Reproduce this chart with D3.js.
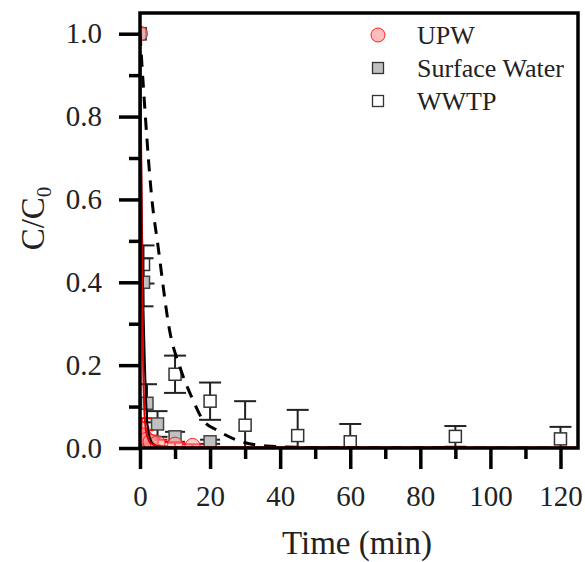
<!DOCTYPE html>
<html>
<head>
<meta charset="utf-8">
<script src="https://cdn.jsdelivr.net/npm/d3@7"></script>
<style>
  body { margin: 0; background: #fff; }
  text { font-family: "Liberation Serif", "Times New Roman", serif; fill: #222; }
</style>
</head>
<body>
<div class="chart"></div>
<script>
// data
const upwTime = [0, 0.5, 1, 2, 3, 5, 10, 15];
const upwVal = [1.0, 0.045, 0.03, 0.02, 0.015, 0.012, 0.008, 0.005];
const upwErr = [0, 0.027, 0.013, 0.01, 0.008, 0.008, 0.006, 0.004];

const swTime = [0, 1, 2, 5, 10, 20];
const swVal = [1.0, 0.40, 0.108, 0.058, 0.027, 0.015];
const swErr = [0, 0.058, 0.046, 0.031, 0.012, 0.005];

const wwtpTime = [0, 1, 10, 20, 30, 45, 60, 90, 120];
const wwtpVal = [1.0, 0.443, 0.178, 0.113, 0.055, 0.030, 0.015, 0.028, 0.022];
const wwtpErr = [0, 0.046, 0.045, 0.045, 0.058, 0.062, 0.043, 0.025, 0.029];

// fitted curves, points
const upwFitTime = [0, 0.3, 0.6, 0.9, 1.2, 1.6, 2.2, 3, 5, 10, 125];
const upwFitVal = [1, 0.75, 0.4, 0.2, 0.1, 0.05, 0.025, 0.012, 0.005, 0.002, 0.001];
const swFitTime = [0, 0.3, 0.6, 1, 1.4, 2, 2.5, 3, 4, 5, 7, 10, 125];
const swFitVal = [1, 0.7, 0.5, 0.33, 0.2, 0.07, 0.035, 0.02, 0.008, 0.003, 0.001, 0, 0];
const wwtpFitTime = [0, 0.9, 3.4, 5.1, 8.6, 11.4, 15.1, 18, 22, 27.7, 36, 50, 125];
const wwtpFitVal = [1.0, 0.88, 0.60, 0.49, 0.277, 0.195, 0.116, 0.067, 0.043, 0.019, 0.005, 0.001, 0];

const xTicks = [0, 20, 40, 60, 80, 100, 120];
const yTicks = [0, 0.2, 0.4, 0.6, 0.8, 1.0];

const svgWidth = 585;
const svgHeight = 562;
const margin = { top: 13, right: 7, bottom: 114, left: 140 };
const width = svgWidth - margin.left - margin.right;
const height = svgHeight - margin.top - margin.bottom;

const svg = d3.select(".chart").append("svg")
    .attr("width", svgWidth)
    .attr("height", svgHeight);

const chartGroup = svg.append("g")
    .attr("transform", `translate(${margin.left}, ${margin.top})`);

const x = d3.scaleLinear().domain([0, 125]).range([0, width]);
const y = d3.scaleLinear().domain([0, 1.05]).range([height, 0]);

svg.append("defs").append("clipPath").attr("id", "plot")
    .append("rect").attr("width", width).attr("height", height);

const plot = chartGroup.append("g").attr("clip-path", "url(#plot)");

const zip = (t, v, e) => t.map((d, i) => ({ t: d, v: v[i], e: e ? e[i] : 0 }));
const upw = zip(upwTime, upwVal, upwErr);
const sw = zip(swTime, swVal, swErr);
const wwtp = zip(wwtpTime, wwtpVal, wwtpErr);

function errorBars(data, color, cap) {
    const g = plot.append("g").attr("stroke", color).attr("stroke-width", 2);
    data.filter(d => d.e > 0).forEach(d => {
        const cx = x(d.t);
        g.append("line").attr("x1", cx).attr("x2", cx)
            .attr("y1", y(d.v + d.e)).attr("y2", y(d.v - d.e));
        [d.v + d.e, d.v - d.e].forEach(val => {
            g.append("line").attr("x1", cx - cap / 2).attr("x2", cx + cap / 2)
                .attr("y1", y(val)).attr("y2", y(val));
        });
    });
}

const line = d3.line().x(d => x(d.t)).y(d => y(d.v)).curve(d3.curveMonotoneX);

// WWTP
errorBars(wwtp, "#222", 22);
plot.selectAll(".wwtp").data(wwtp).enter().append("rect")
    .attr("x", d => x(d.t) - 6).attr("y", d => y(d.v) - 6)
    .attr("width", 12).attr("height", 12)
    .attr("fill", "#fff").attr("stroke", "#333").attr("stroke-width", 1.5);

// Surface water
errorBars(sw, "#222", 20);
plot.selectAll(".sw").data(sw).enter().append("rect")
    .attr("x", d => x(d.t) - 6).attr("y", d => y(d.v) - 6)
    .attr("width", 12).attr("height", 12)
    .attr("fill", "#c0c0c0").attr("stroke", "#444").attr("stroke-width", 1.5);

// UPW
errorBars(upw, "#ff0000", 20);
plot.selectAll(".upw").data(upw).enter().append("circle")
    .attr("cx", d => x(d.t)).attr("cy", d => y(d.v)).attr("r", 7.5)
    .attr("fill", "rgba(255,160,160,0.55)").attr("stroke", "#ff2020").attr("stroke-width", 1);

// fits
plot.append("path").datum(zip(wwtpFitTime, wwtpFitVal))
    .attr("d", line).attr("fill", "none").attr("stroke", "#000")
    .attr("stroke-width", 3).attr("stroke-dasharray", "12,9");
plot.append("path").datum(zip(swFitTime, swFitVal))
    .attr("d", line).attr("fill", "none").attr("stroke", "#000").attr("stroke-width", 2);
plot.append("path").datum(zip(upwFitTime, upwFitVal))
    .attr("d", line).attr("fill", "none").attr("stroke", "#e00000").attr("stroke-width", 2);

// axes
const xAxis = chartGroup.append("g")
    .attr("transform", `translate(0, ${height})`)
    .call(d3.axisBottom(x).tickValues(xTicks).tickFormat(d3.format("d")).tickSize(21).tickPadding(16));
const xMinor = chartGroup.append("g")
    .attr("transform", `translate(0, ${height})`)
    .call(d3.axisBottom(x).tickValues([10, 30, 50, 70, 90, 110]).tickSize(11).tickFormat(""));
const yAxis = chartGroup.append("g")
    .call(d3.axisLeft(y).tickValues(yTicks).tickFormat(d3.format(".1f")).tickSize(21).tickPadding(17));
const yMinor = chartGroup.append("g")
    .call(d3.axisLeft(y).tickValues([0.1, 0.3, 0.5, 0.7, 0.9]).tickSize(11).tickFormat(""));

[xAxis, xMinor, yAxis, yMinor].forEach(a => {
    a.select(".domain").remove();
    a.selectAll("line").attr("stroke", "#000").attr("stroke-width", 3.5);
    a.selectAll("text").style("font-family", "Liberation Serif").style("font-size", "29px").attr("fill", "#222");
});

// frame
chartGroup.append("rect")
    .attr("width", width).attr("height", height)
    .attr("fill", "none").attr("stroke", "#000").attr("stroke-width", 3.5);

// axis labels
svg.append("text")
    .attr("x", margin.left + width / 2 - 2).attr("y", 554)
    .attr("text-anchor", "middle").style("font-size", "33px")
    .text("Time (min)");

const yLabel = svg.append("text")
    .attr("transform", `translate(44, ${margin.top + height / 2 - 12}) rotate(-90)`)
    .attr("text-anchor", "middle").style("font-size", "33px");
yLabel.append("tspan").text("C/C");
yLabel.append("tspan").attr("dy", 7).style("font-size", "21px").text("0");

// legend
const legend = svg.append("g").attr("transform", "translate(378, 35)");
const legendItems = ["UPW", "Surface Water", "WWTP"];
legendItems.forEach((name, i) => {
    const g = legend.append("g").attr("transform", `translate(0, ${i * 33})`);
    if (i === 0) {
        g.append("circle").attr("r", 7)
            .attr("fill", "rgba(255,160,160,0.7)").attr("stroke", "#ff2020").attr("stroke-width", 1);
    } else {
        g.append("rect").attr("x", -5.5).attr("y", -5.5).attr("width", 11).attr("height", 11)
            .attr("fill", i === 1 ? "#c0c0c0" : "#fff").attr("stroke", "#333").attr("stroke-width", 1.3);
    }
    g.append("text").attr("x", 39).attr("y", 8.5)
        .style("font-size", "26px").text(name);
});
</script>
</body>
</html>
